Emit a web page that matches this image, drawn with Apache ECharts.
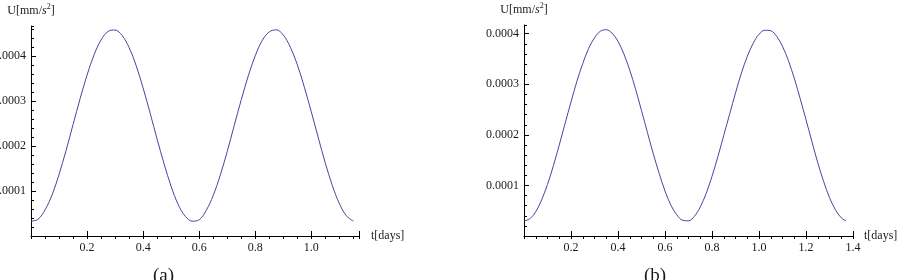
<!DOCTYPE html>
<html>
<head>
<meta charset="utf-8">
<script src="https://cdn.jsdelivr.net/npm/echarts@6/dist/echarts.min.js"></script>
<style>
    html, body { margin: 0; padding: 0; background: #fff; }
    #chart { width: 898px; height: 280px; }
</style>
</head>
<body>
<div id="chart"></div>
<script>
    // panel (a): time in days, U in 1e-4 mm/s^2
    var tA = [0, 0.025, 0.05, 0.075, 0.1, 0.125, 0.15, 0.175, 0.2, 0.225, 0.25, 0.275, 0.3, 0.325, 0.35, 0.375,
        0.4, 0.425, 0.45, 0.475, 0.5, 0.525, 0.55, 0.575, 0.6, 0.625, 0.65, 0.675, 0.7, 0.725, 0.75, 0.775,
        0.8, 0.825, 0.85, 0.875, 0.9, 0.925, 0.95, 0.975, 1.0, 1.025, 1.05, 1.075, 1.1, 1.125, 1.15];
    var uA = [0.33, 0.37, 0.58, 0.91, 1.37, 1.90, 2.48, 3.05, 3.58, 4.03, 4.36, 4.55, 4.58, 4.46, 4.19, 3.79,
        3.29, 2.73, 2.15, 1.60, 1.10, 0.70, 0.44, 0.33, 0.36, 0.57, 0.90, 1.35, 1.88, 2.46, 3.03, 3.56,
        4.01, 4.35, 4.54, 4.585, 4.47, 4.20, 3.81, 3.31, 2.76, 2.18, 1.62, 1.12, 0.72, 0.45, 0.33];

    // panel (b)
    var tB = [0, 0.025, 0.05, 0.075, 0.1, 0.125, 0.15, 0.175, 0.2, 0.225, 0.25, 0.275, 0.3, 0.325, 0.35, 0.375,
        0.4, 0.425, 0.45, 0.475, 0.5, 0.525, 0.55, 0.575, 0.6, 0.625, 0.65, 0.675, 0.7, 0.725, 0.75, 0.775,
        0.8, 0.825, 0.85, 0.875, 0.9, 0.925, 0.95, 0.975, 1.0, 1.025, 1.05, 1.075, 1.1, 1.125, 1.15, 1.175,
        1.2, 1.225, 1.25, 1.275, 1.3, 1.325, 1.35, 1.37];
    var uB = [0.30, 0.34, 0.48, 0.715, 1.02, 1.39, 1.80, 2.23, 2.65, 3.06, 3.41, 3.71, 3.92, 4.05, 4.08, 4.01,
        3.85, 3.60, 3.28, 2.90, 2.48, 2.05, 1.63, 1.24, 0.89, 0.61, 0.42, 0.31, 0.30, 0.39, 0.575, 0.84,
        1.18, 1.57, 1.99, 2.41, 2.83, 3.22, 3.55, 3.81, 3.99, 4.07, 4.06, 3.95, 3.75, 3.47, 3.12, 2.72,
        2.30, 1.87, 1.45, 1.08, 0.76, 0.52, 0.36, 0.30];

    // tick steps: major / minor
    var xStep = [0.2, 0.05];
    var yStep = [0.0001, 0.00002];

    var font = 'Liberation Serif';
    var ink = '#000';
    var lineColor = '#4646a0';

    function pairs(t, u) {
        return t.map(function (x, i) { return [x, u[i] * 1e-4]; });
    }

    function xAxes(grid, max, gap) {
        return [{
            gridIndex: grid, type: 'value', min: 0, max: max, interval: xStep[0],
            axisLine: { show: true, onZero: false, lineStyle: { color: ink, width: 1 } },
            axisTick: { show: true, inside: true, length: 5, lineStyle: { color: ink, width: 1 } },
            axisLabel: { showMinLabel: false, margin: 6, color: '#1a1a1a', fontFamily: font, fontSize: 12,
                formatter: function (v) {
                    return Math.abs(v / xStep[0] - Math.round(v / xStep[0])) < 1e-6 ? v.toFixed(1) : '';
                } },
            splitLine: { show: false },
            name: 't[days]', nameLocation: 'end', nameGap: gap,
            nameTextStyle: { color: '#1a1a1a', fontFamily: font, fontSize: 12, verticalAlign: 'middle' }
        }, {
            gridIndex: grid, type: 'value', min: 0, max: max, interval: xStep[1],
            axisLine: { show: false },
            axisTick: { show: true, inside: true, length: 3, lineStyle: { color: ink, width: 1 } },
            axisLabel: { show: false },
            splitLine: { show: false }
        }];
    }

    function yAxes(grid, max) {
        return [{
            gridIndex: grid, type: 'value', min: 0, max: max, interval: yStep[0], position: 'left',
            axisLine: { show: true, onZero: false, lineStyle: { color: ink, width: 1 } },
            axisTick: { show: true, inside: true, length: 5, lineStyle: { color: ink, width: 1 } },
            axisLabel: { showMinLabel: false, showMaxLabel: false, margin: 5, color: '#1a1a1a', fontFamily: font, fontSize: 12,
                formatter: function (v) { return v.toFixed(4); } },
            splitLine: { show: false },
            name: 'U[mm/{i|s}{sup|2}]', nameLocation: 'end', nameGap: 8,
            nameTextStyle: {
                color: '#1a1a1a', fontFamily: font, fontSize: 12,
                rich: {
                    i: { fontStyle: 'italic', fontFamily: font, fontSize: 12, color: '#1a1a1a' },
                    sup: { fontFamily: font, fontSize: 8, color: '#1a1a1a', padding: [0, 0, 7, 0] }
                }
            }
        }, {
            gridIndex: grid, type: 'value', min: 0, max: max, interval: yStep[1], position: 'left',
            axisLine: { show: false },
            axisTick: { show: true, inside: true, length: 3, lineStyle: { color: ink, width: 1 } },
            axisLabel: { show: false },
            splitLine: { show: false }
        }];
    }

    var chart = echarts.init(document.getElementById('chart'), null, { renderer: 'canvas' });
    chart.setOption({
        backgroundColor: '#fff',
        animation: false,
        grid: [
            { left: 31, top: 26, width: 328, height: 210, containLabel: false, outerBoundsMode: 'none' },
            { left: 524, top: 25, width: 329, height: 211, containLabel: false, outerBoundsMode: 'none' }
        ],
        xAxis: xAxes(0, 1.17, 12).concat(xAxes(1, 1.4, 11)),
        yAxis: yAxes(0, 0.000467).concat(yAxes(1, 0.0004173)),
        series: [{
            type: 'line', xAxisIndex: 0, yAxisIndex: 0, data: pairs(tA, uA),
            smooth: 0.35, showSymbol: false, lineStyle: { color: lineColor, width: 1 }
        }, {
            type: 'line', xAxisIndex: 2, yAxisIndex: 2, data: pairs(tB, uB),
            smooth: 0.35, showSymbol: false, lineStyle: { color: lineColor, width: 1 }
        }],
        graphic: [
            { type: 'text', left: 153, top: 267, style: { text: '(a)', fontFamily: font, fontSize: 19, fill: '#1a1a1a' } },
            { type: 'text', left: 644, top: 267, style: { text: '(b)', fontFamily: font, fontSize: 19, fill: '#1a1a1a' } }
        ]
    });
    window.addEventListener('resize', function () { chart.resize(); });
</script>
</body>
</html>
